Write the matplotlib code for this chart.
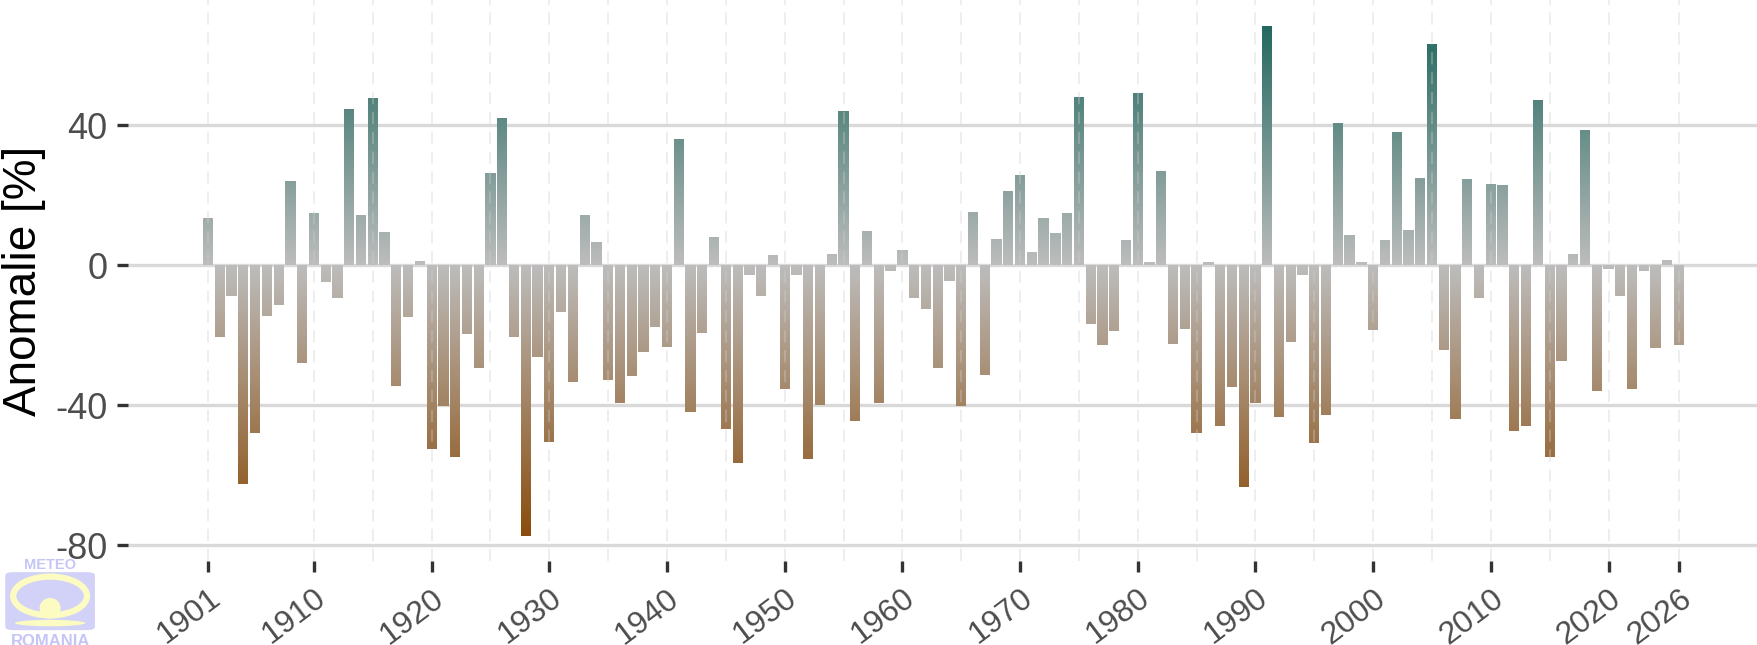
import numpy as np
import matplotlib
matplotlib.use("Agg")
import matplotlib.pyplot as plt
from matplotlib.colors import LinearSegmentedColormap, TwoSlopeNorm
from matplotlib.path import Path
from matplotlib.patches import FancyBboxPatch, Ellipse

# Years shown on the chart
years = list(range(1901, 2027))

# Precipitation anomaly [%], one value per year
anomaly = [
    13.5, -20.4, -8.9, -62.5, -47.9, -14.4, -11.5, 24.1, -28.1, 14.9,    # 1901-1910
    -4.8, -9.5, 44.5, 14.4, 47.9, 9.5, -34.4, -14.9, 1.3, -52.5,         # 1911-1920
    -40.2, -54.7, -19.8, -29.5, 26.4, 42.1, -20.4, -77.3, -26.1, -50.5,  # 1921-1930
    -13.5, -33.3, 14.4, 6.7, -32.7, -39.3, -31.8, -24.9, -17.8, -23.3,   # 1931-1940
    36.1, -41.9, -19.3, 8.1, -46.9, -56.5, -2.7, -8.9, 2.9, -35.3,       # 1941-1950
    -2.9, -55.3, -40.0, 3.3, 44.0, -44.4, 9.8, -39.3, -1.8, 4.4,         # 1951-1960
    -9.5, -12.4, -29.5, -4.4, -40.2, 15.3, -31.3, 7.6, 21.3, 25.9,       # 1961-1970
    3.8, 13.5, 9.3, 14.9, 48.1, -16.9, -22.7, -18.7, 7.3, 49.3,          # 1971-1980
    0.9, 26.9, -22.4, -18.1, -47.9, 0.9, -46.1, -34.7, -63.5, -39.5,     # 1981-1990
    68.5, -43.3, -22.0, -2.7, -50.7, -42.9, 40.7, 8.7, 0.9, -18.4,       # 1991-2000
    7.3, 38.1, 10.1, 24.9, 63.3, -24.1, -44.1, 24.7, -9.5, 23.3,         # 2001-2010
    22.9, -47.5, -46.1, 47.3, -54.7, -27.5, 3.3, 38.7, -35.9, -1.2,      # 2011-2020
    -8.7, -35.3, -1.8, -23.8, 1.5, -22.7,                                # 2021-2026
]

# Axis breaks
x_breaks = [1901, 1910, 1920, 1930, 1940, 1950, 1960, 1970, 1980, 1990, 2000, 2010, 2020, 2026]
x_minor = [1915, 1925, 1935, 1945, 1955, 1965, 1975, 1985, 1995, 2005, 2015]
y_breaks = [-80, -40, 0, 40]

plt.rcParams['font.family'] = ['Liberation Sans', 'DejaVu Sans']

fig = plt.figure(figsize=(17.58, 6.45), dpi=100)
ax = fig.add_axes([0.0728, 0.130, 0.9272, 0.870])

# ggplot-like limits (5% expansion on y)
ymin = min(anomaly) - 0.05 * (max(anomaly) - min(anomaly))
ymax = max(anomaly) + 0.05 * (max(anomaly) - min(anomaly))
xlim = (1894.2, 2032.7)

# Horizontal gridlines behind the bars
for yb in y_breaks:
    ax.axhline(yb, color='#d9d9d9', linewidth=2.4, zorder=0)

# Invisible bars, used as a clip path for the gradient
bars = ax.bar(years, anomaly, width=0.87, color='none', edgecolor='none', zorder=2)
paths = [b.get_path().transformed(b.get_patch_transform()) for b in bars]
bar_path = Path.make_compound_path(*paths)

# Vertical gradient: brown (dry) -> grey (0) -> teal (wet)
cmap = LinearSegmentedColormap.from_list('anom', ['#8a4d0e', '#bdbdbd', '#23695f'])
norm = TwoSlopeNorm(vmin=min(anomaly), vcenter=0, vmax=max(anomaly))
grad = np.linspace(ymin, ymax, 600).reshape(-1, 1)
im = ax.imshow(grad, cmap=cmap, norm=norm, origin='lower', aspect='auto',
               extent=[xlim[0], xlim[1], ymin, ymax], zorder=2, interpolation='bilinear')
im.set_clip_path(bar_path, ax.transData)

# Dashed vertical gridlines, faint, drawn over the bars
for xb in x_breaks + x_minor:
    ax.axvline(xb, color='#cfcfcf', alpha=0.45, linewidth=1.1,
               linestyle=(0, (8, 5)), zorder=3)

ax.set_xlim(*xlim)
ax.set_ylim(ymin, ymax)

# Ticks and labels
ax.set_xticks(x_breaks)
ax.set_xticklabels([str(x) for x in x_breaks], rotation=37, ha='right', va='top',
                   rotation_mode='anchor')
ax.set_yticks(y_breaks)
ax.set_yticklabels([str(y) for y in y_breaks])
ax.tick_params(axis='both', colors='#333333', labelcolor='#4d4d4d',
               length=8, width=2.4)
ax.tick_params(axis='x', labelsize=23, pad=8)
ax.tick_params(axis='y', labelsize=26, pad=7)

for s in ax.spines.values():
    s.set_visible(False)

# Y axis title
fig.text(0.0135, 0.565, 'Anomalie [%]', rotation=90, fontsize=33, color='black',
         ha='center', va='center')

# METEO ROMANIA logo (approximation of the watermark)
fig.patches.append(FancyBboxPatch((0.003, 0.023), 0.051, 0.090,
                                  boxstyle='round,pad=0,rounding_size=0.005',
                                  transform=fig.transFigure, facecolor='#d2d2f8',
                                  edgecolor='none'))
fig.patches.append(Ellipse((0.0285, 0.076), 0.042, 0.060, transform=fig.transFigure,
                           facecolor='none', edgecolor='#fbfbc2', linewidth=4.5))
fig.patches.append(Ellipse((0.0285, 0.057), 0.012, 0.032, transform=fig.transFigure,
                           facecolor='#fbfbc2', edgecolor='none'))
fig.patches.append(Ellipse((0.0285, 0.034), 0.040, 0.010, transform=fig.transFigure,
                           facecolor='#fbfbc2', edgecolor='none'))
fig.text(0.0285, 0.124, 'METEO', color='#c6c6f6', fontsize=10.5, fontweight='bold',
         ha='center', va='center')
fig.text(0.0285, 0.006, 'ROMANIA', color='#c6c6f6', fontsize=12, fontweight='bold',
         ha='center', va='center')

plt.savefig('out.png', dpi=100)
plt.close()
